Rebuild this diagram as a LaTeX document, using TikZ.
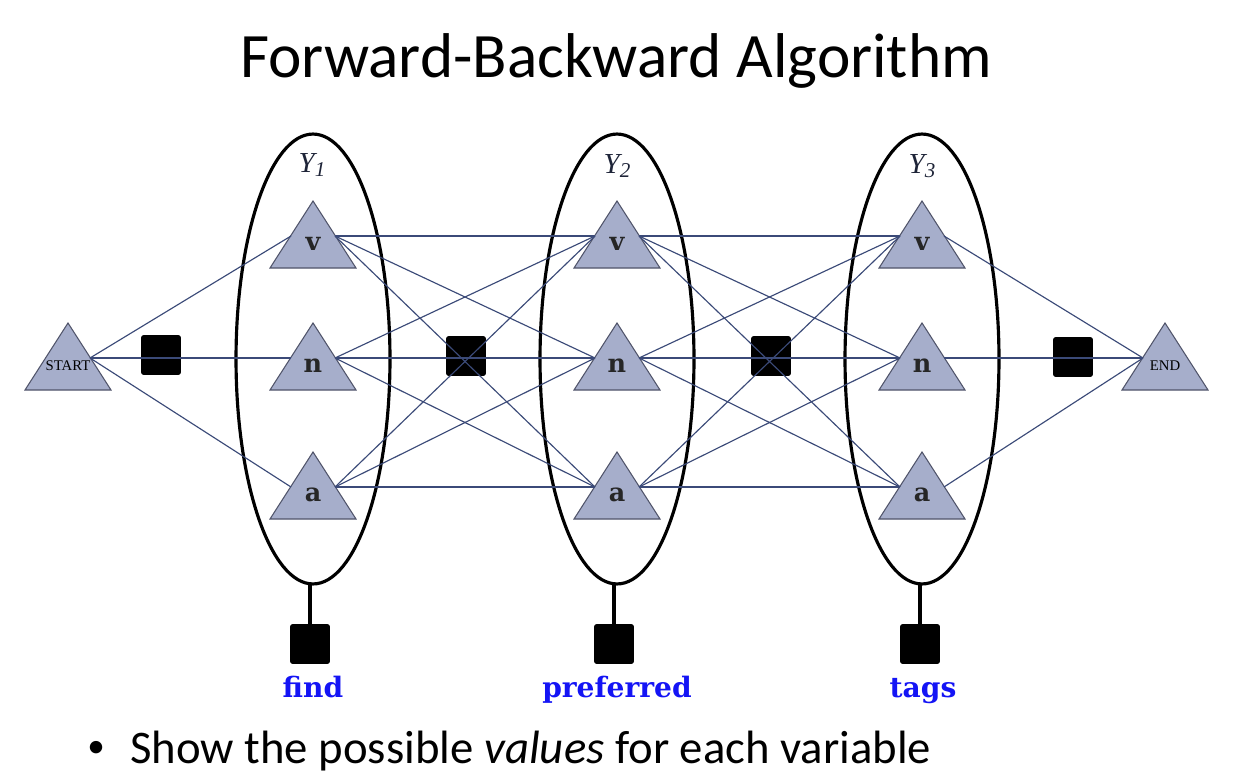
\documentclass[tikz,border=0pt]{standalone}
\usepackage{fontspec}
\usetikzlibrary{shapes.geometric}
\setmainfont{Liberation Serif}
\newfontfamily\titlefont{Carlito}
\newfontfamily\valfont{DejaVu Serif}
\newfontfamily\wordfont{DejaVu Serif}
\definecolor{edgecol}{HTML}{3B4A78}
\definecolor{trifill}{HTML}{A6AECB}
\definecolor{triline}{HTML}{50546A}
\definecolor{wordblue}{HTML}{1414F5}
\definecolor{ylab}{HTML}{1E2438}
\tikzset{
  tribody/.style={fill=trifill, draw=triline, line width=0.6pt},
  trilabel/.style={inner sep=0pt, text=black!85, font=\valfont\bfseries\fontsize{14.5}{14.5}\selectfont},
  endlabel/.style={inner sep=0pt, font=\fontsize{8.4}{8.4}\selectfont},
  factor/.style={fill=black, draw=black, rounded corners=1.2pt, minimum size=0.78cm, inner sep=0pt},
  varell/.style={ellipse, draw=black, line width=1.8pt, minimum width=3.08cm, minimum height=9cm, inner sep=0pt},
  conn/.style={draw=edgecol, line width=0.65pt},
  stem/.style={draw=black, line width=1.8pt},
  word/.style={text=wordblue, font=\wordfont\bfseries\fontsize{16}{16}\selectfont, anchor=base},
  ylabel/.style={text=ylab, font=\fontsize{16.5}{16.5}\selectfont\itshape, anchor=base},
}
% triangle: name, x, port-y, label, label style
\newcommand\valtri[5]{%
  \path[tribody] (#2,#3-35) -- (#2+43,#3+32) -- (#2-43,#3+32) -- cycle;
  \node[#5] (#1) at (#2,#3+8) {#4};
  \coordinate (#1-l) at (#2-22,#3);
  \coordinate (#1-r) at (#2+22,#3);
}
\begin{document}
\begin{tikzpicture}[x=0.02cm, y=-0.02cm]
\useasboundingbox (0,0) rectangle (1233,777);
\fill[white] (0,0) rectangle (1233,777);

% title
\node[anchor=base, inner sep=0pt, font=\titlefont\fontsize{36}{36}\selectfont] (title) at (616,78) {Forward-Backward Algorithm};

% variable ellipses
\node[varell] (E1) at (313,359) {};
\node[varell] (E2) at (617,359) {};
\node[varell] (E3) at (922,359) {};
\node[ylabel] (Y1) at (312,172) {Y\raisebox{-0.35ex}{\fontsize{12}{12}\selectfont 1}};
\node[ylabel] (Y2) at (617,173) {Y\raisebox{-0.35ex}{\fontsize{12}{12}\selectfont 2}};
\node[ylabel] (Y3) at (922,173) {Y\raisebox{-0.35ex}{\fontsize{12}{12}\selectfont 3}};

% factor squares
\node[factor] (fs) at (161,355) {};
\node[factor] (f12) at (466,356) {};
\node[factor] (f23) at (771,356) {};
\node[factor] (fe) at (1073,357) {};
\node[factor] (u1) at (310,644) {};
\node[factor] (u2) at (614,644) {};
\node[factor] (u3) at (920,644) {};

\draw[stem] (310,584) -- (u1.north);
\draw[stem] (614,584) -- (u2.north);
\draw[stem] (920,584) -- (u3.north);

% triangles
\valtri{S}{68}{358}{START}{endlabel}
\valtri{T}{1165}{358}{END}{endlabel}
\valtri{v1}{313}{236}{v}{trilabel}
\valtri{n1}{313}{358}{n}{trilabel}
\valtri{a1}{313}{487}{a}{trilabel}
\valtri{v2}{617}{236}{v}{trilabel}
\valtri{n2}{617}{358}{n}{trilabel}
\valtri{a2}{617}{487}{a}{trilabel}
\valtri{v3}{922}{236}{v}{trilabel}
\valtri{n3}{922}{358}{n}{trilabel}
\valtri{a3}{922}{487}{a}{trilabel}

% connectors
\foreach \b in {v1,n1,a1} \draw[conn] (S-r) -- (\b-l);
\foreach \a in {v1,n1,a1} \foreach \b in {v2,n2,a2} \draw[conn] (\a-r) -- (\b-l);
\foreach \a in {v2,n2,a2} \foreach \b in {v3,n3,a3} \draw[conn] (\a-r) -- (\b-l);
\foreach \a in {v3,n3,a3} \draw[conn] (\a-r) -- (T-l);

% observed words
\node[word] (w1) at (313,697) {find};
\node[word] (w2) at (617,697) {preferred};
\node[word] (w3) at (923,697) {tags};

% bullet text
\node[inner sep=0pt, font=\titlefont\fontsize{20}{20}\selectfont] (bul) at (96,749) {•};
\node[anchor=base west, inner sep=0pt, font=\titlefont\fontsize{26.6}{26.6}\selectfont] (txt) at (130,763) {Show the possible \textit{values} for each variable};
\end{tikzpicture}
\end{document}
